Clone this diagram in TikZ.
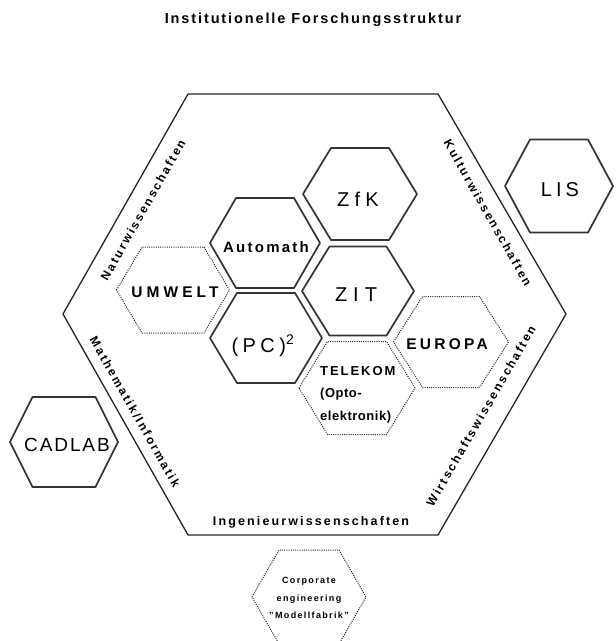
\documentclass[tikz,border=0pt]{standalone}
\usepackage{fontspec}
\setmainfont{Liberation Sans}
\usetikzlibrary{calc}
\newcommand\ls[1]{\addfontfeature{LetterSpace=#1}}
\newcommand\hexat[5]{\draw[#1, shift={(#2)}] (-#3,0) -- (-#4,-#5) -- (#4,-#5) -- (#3,0) -- (#4,#5) -- (-#4,#5) -- cycle;}
\tikzset{
  frame/.style={draw=black!85, line width=1.3pt, line join=round},
  solidhex/.style={draw=black!80, line width=1.7pt, line join=round},
  dothex/.style={draw=black!85, line width=1pt, dash pattern=on 1pt off 1.2pt},
  lbl/.style={inner sep=0pt, text=black},
  side/.style={lbl, font=\fontsize{12}{14}\bfseries\selectfont\ls{18}},
}
\begin{document}
\begin{tikzpicture}[x=1pt,y=-1pt]
\useasboundingbox[fill=white] (0,0) rectangle (616,641);
% title
\node[lbl, anchor=base, font=\fontsize{14.5}{16}\bfseries\selectfont\ls{13}] (title) at (313,23) {Institutionelle Forschungsstruktur};
% big frame
\coordinate (fL) at (63,314);
\coordinate (fTL) at (188,94);
\coordinate (fTR) at (438,94);
\coordinate (fR) at (566,314);
\coordinate (fBR) at (438,535);
\coordinate (fBL) at (188,535);
\draw[frame] (fL) -- (fTL) -- (fTR) -- (fR) -- (fBR) -- (fBL) -- cycle;
% hex centres
\coordinate (czfk) at (360,194);
\coordinate (caut) at (265,243);
\coordinate (czit) at (358,291);
\coordinate (cpc) at (266,338);
\coordinate (ctel) at (357,388);
\coordinate (ceur) at (451,342);
\coordinate (cumw) at (173,290);
\coordinate (ccad) at (64,442);
\coordinate (clis) at (559,186);
\coordinate (ccor) at (309,597);
% solid hexes
\hexat{solidhex}{czfk}{57}{29}{46}
\hexat{solidhex}{caut}{55}{29}{45}
\hexat{solidhex}{czit}{56}{28.5}{44.5}
\hexat{solidhex}{cpc}{56}{29}{45}
\hexat{solidhex}{ccad}{54}{31.5}{45}
\hexat{solidhex}{clis}{54}{29}{46.5}
% dotted hexes
\hexat{dothex}{ctel}{58}{29.5}{46.5}
\hexat{dothex}{ceur}{57.5}{28.5}{45.5}
\hexat{dothex}{cumw}{56.5}{31}{43}
\hexat{dothex}{ccor}{57}{30}{47}
% hex labels
\node[lbl, anchor=base, font=\fontsize{20}{22}\selectfont\ls{26}] (zfk) at (358,206) {ZfK};
\node[lbl, anchor=base, font=\fontsize{20}{22}\selectfont\ls{30}] (zit) at (356,301) {ZIT};
\node[lbl, anchor=base, font=\fontsize{20}{22}\selectfont\ls{22}] (pc) at (263,352) {(PC)\textsuperscript{2}};
\node[lbl, anchor=base, font=\fontsize{20}{22}\selectfont\ls{20}] (lis) at (560,196) {LIS};
\node[lbl, anchor=base, font=\fontsize{19}{22}\selectfont\ls{10}] (cad) at (67,451) {CADLAB};
\node[lbl, anchor=base, font=\fontsize{15}{18}\bfseries\selectfont\ls{15}] (aut) at (266,252) {Automath};
\node[lbl, anchor=base, font=\fontsize{15.5}{18}\bfseries\selectfont\ls{26}] (umw) at (175,297) {UMWELT};
\node[lbl, anchor=base, font=\fontsize{15.5}{18}\bfseries\selectfont\ls{21}] (eur) at (447,349) {EUROPA};
\node[lbl, anchor=north west, align=left, font=\fontsize{13}{22.5}\bfseries\selectfont\ls{15}] (tel) at (320,366) {TELEKOM\\{\ls{4}(Opto-}\\{\ls{4}elektronik)}};
\node[lbl, align=center, font=\fontsize{9}{17.5}\bfseries\selectfont\ls{15}] (cor) at (309,598) {Corporate\\engineering\\"Modellfabrik"};
% side labels
\node[side, rotate=60.5] (nat) at (143,210) {Naturwissenschaften};
\node[side, rotate=-60.5] (kul) at (488,213) {Kulturwissenschaften};
\node[side, rotate=-60.5] (mat) at (135,412) {Mathematik/Informatik};
\node[side, rotate=60] (wir) at (481,416) {Wirtschaftswissenschaften};
\node[lbl, anchor=base, font=\fontsize{12.5}{14}\bfseries\selectfont\ls{17}] (ing) at (311,525) {Ingenieurwissenschaften};
\end{tikzpicture}
\end{document}
